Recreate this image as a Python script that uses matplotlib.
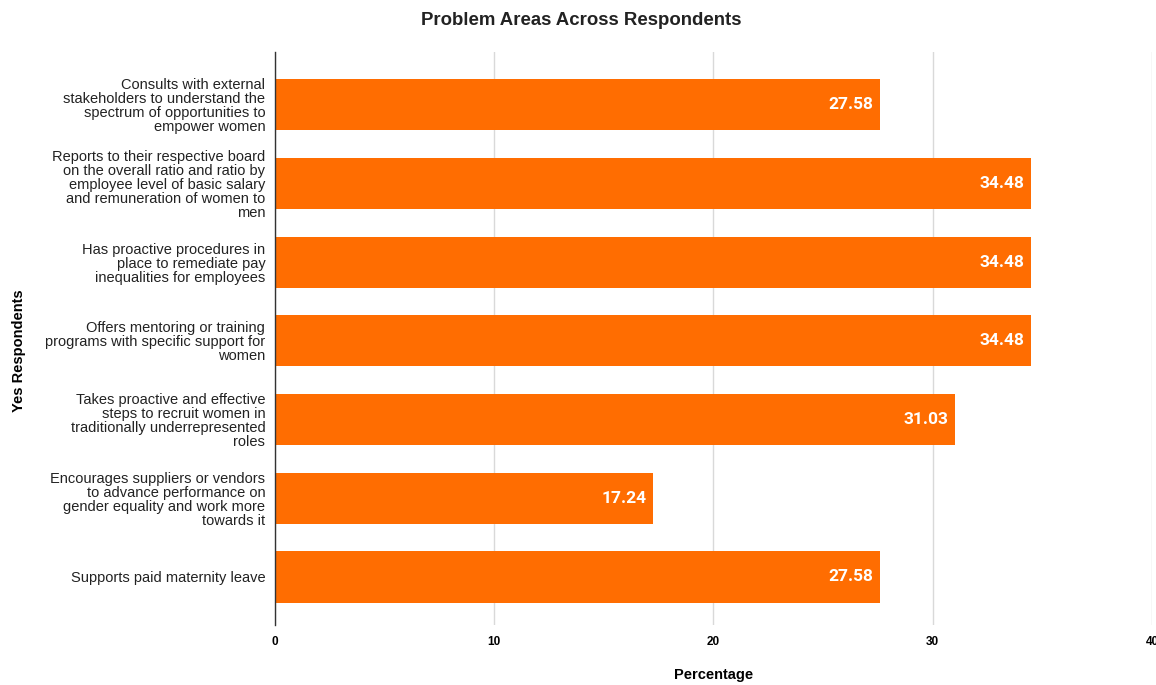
import matplotlib.pyplot as plt

# problem areas, top to bottom as drawn
categories = [
    "Consults with external\nstakeholders to understand the\nspectrum of opportunities to\nempower women",
    "Reports to their respective board\non the overall ratio and ratio by\nemployee level of basic salary\nand remuneration of women to\nmen",
    "Has proactive procedures in\nplace to remediate pay\ninequalities for employees",
    "Offers mentoring or training\nprograms with specific support for\nwomen",
    "Takes proactive and effective\nsteps to recruit women in\ntraditionally underrepresented\nroles",
    "Encourages suppliers or vendors\nto advance performance on\ngender equality and work more\ntowards it",
    "Supports paid maternity leave",
]
percentages = [27.58, 34.48, 34.48, 34.48, 31.03, 17.24, 27.58]
x_ticks = [0, 10, 20, 30, 40]

BAR_COLOR = "#ff6d01"
plt.rcParams["font.family"] = ["Liberation Sans", "DejaVu Sans"]

fig = plt.figure(figsize=(11.56, 6.85), dpi=100)
ax = fig.add_axes([0.2379, 0.0876, 0.7586, 0.8365])

ypos = list(range(len(categories)))
bars = ax.barh(ypos, percentages, height=0.65, color=BAR_COLOR, zorder=3)

for b, v in zip(bars, percentages):
    ax.text(b.get_width() - 0.3, b.get_y() + b.get_height() / 2, f"{v:.2f}",
            ha="right", va="center", color="white", fontsize=12.5,
            fontweight="bold", family=["Roboto", "DejaVu Sans"], zorder=4)

ax.set_ylim(len(categories) - 1 + 0.61, -0.67)
ax.set_xlim(0, 40)
ax.set_yticks(ypos)
ax.set_yticklabels(categories, fontsize=10.5, linespacing=1.0, color="#222222")
ax.set_xticks(x_ticks)
ax.set_xticklabels([str(t) for t in x_ticks], fontsize=8.5, fontweight="bold")
ax.tick_params(axis="both", length=0)
ax.tick_params(axis="y", pad=7)
ax.tick_params(axis="x", pad=8)

ax.grid(axis="x", color="#d9d9d9", linewidth=1, zorder=0)
for side in ["top", "right", "bottom"]:
    ax.spines[side].set_visible(False)
ax.spines["left"].set_color("#333333")
ax.spines["left"].set_linewidth(1)
ax.spines["left"].set_zorder(5)

ax.set_xlabel("Percentage", fontsize=10.5, fontweight="bold", labelpad=14)
ax.set_ylabel("Yes Respondents", fontsize=10.5, fontweight="bold")
ax.yaxis.set_label_coords(-0.284, 0.478)

fig.suptitle("Problem Areas Across Respondents", x=0.5026, y=0.983,
             fontsize=13.4, fontweight="bold", color="#222222")

plt.savefig("out.png", dpi=100)
